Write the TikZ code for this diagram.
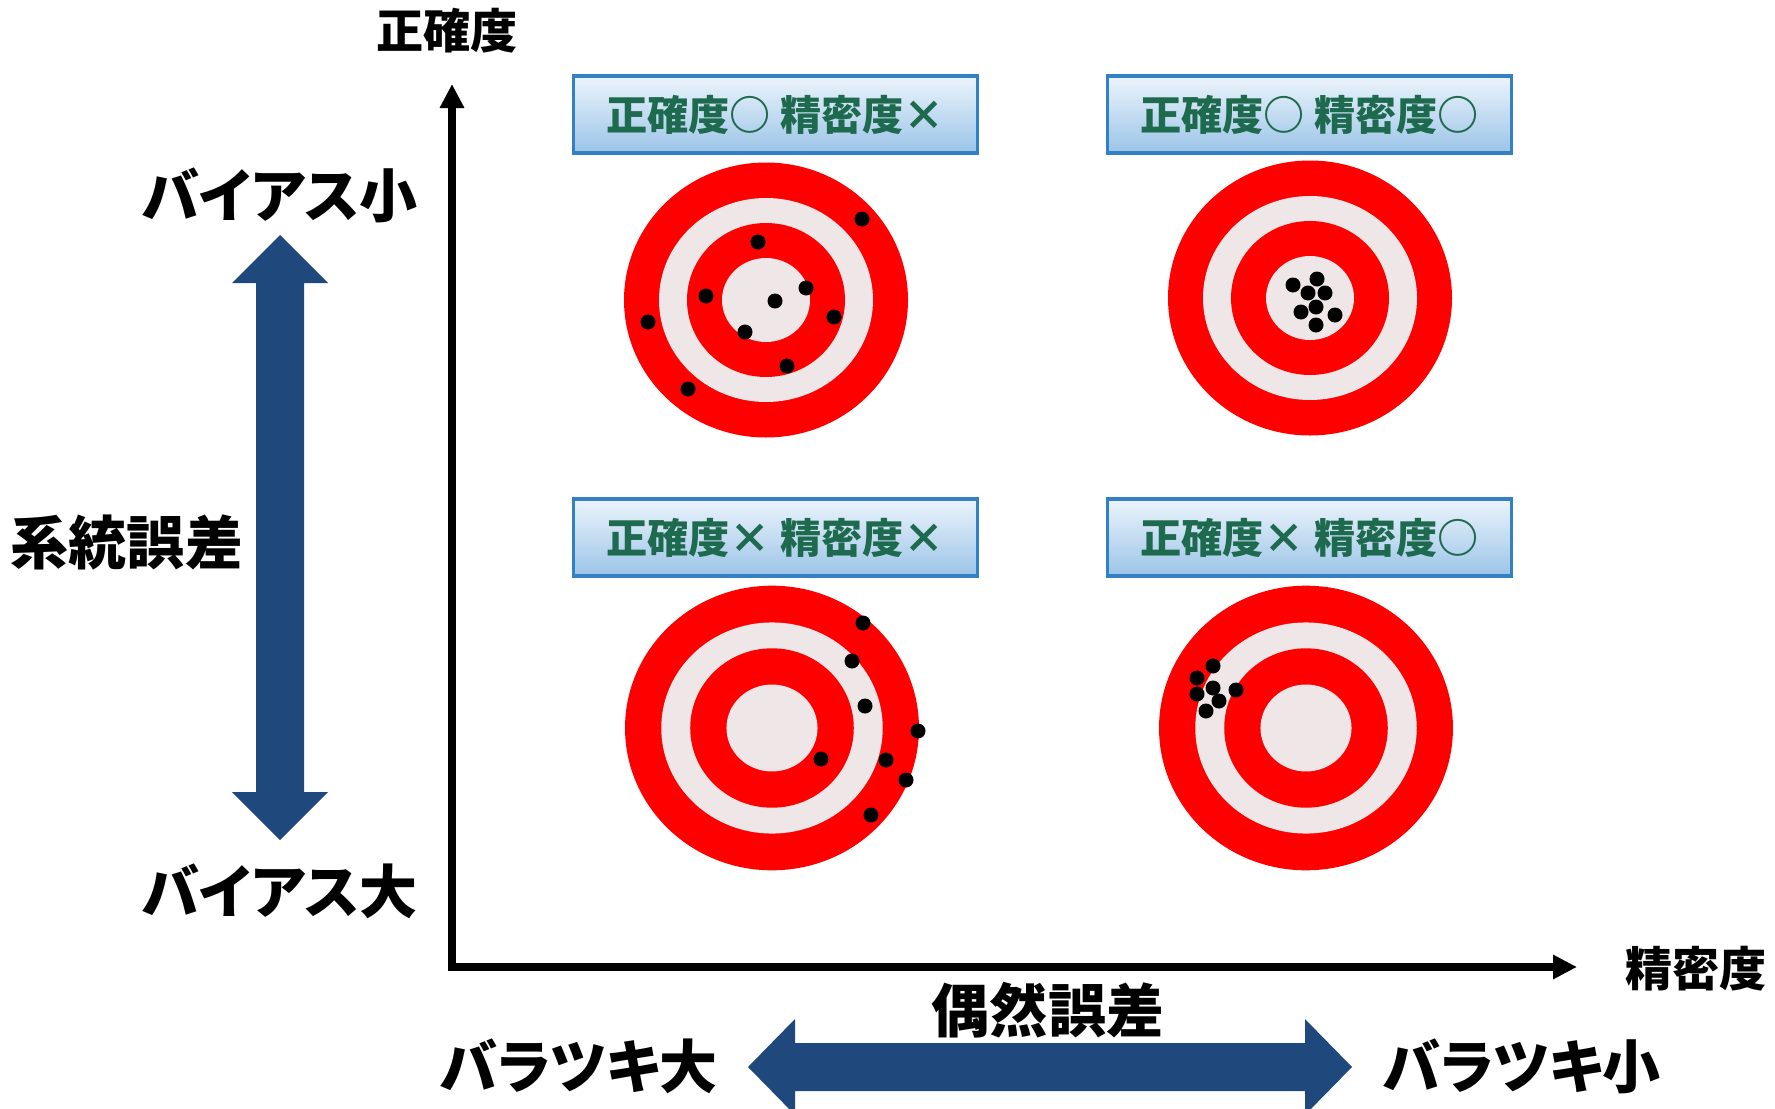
\documentclass[tikz,border=0pt]{standalone}
\usepackage{fontspec}
\setmainfont{Noto Sans CJK JP}
\newfontfamily\kanafont{Noto Sans CJK JP}[RawFeature=+palt]
\usetikzlibrary{arrows.meta}

\definecolor{ringred}{RGB}{255,0,0}
\definecolor{ringgray}{RGB}{239,231,231}
\definecolor{blockblue}{RGB}{31,73,125}
\definecolor{boxline}{RGB}{52,128,196}
\definecolor{boxtop}{RGB}{236,244,251}
\definecolor{boxbot}{RGB}{155,196,232}
\definecolor{tagtext}{RGB}{30,106,78}

\begin{document}
\begin{tikzpicture}[x=0.01cm,y=-0.01cm,font=\bfseries,>={Triangle[length=2.4mm,width=2.3mm]},
  big/.style={font=\bfseries\fontsize{16.5}{18}\selectfont},
  kana/.style={font=\kanafont\bfseries\fontsize{16.5}{18}\selectfont},
  axislabel/.style={font=\bfseries\fontsize{13.4}{15}\selectfont},
  tag/.style={draw=boxline,line width=0.9pt,top color=boxtop,bottom color=boxbot,
    minimum width=4.03cm,minimum height=0.77cm,inner sep=0pt,text=tagtext,
    font=\bfseries\fontsize{11.7}{13}\selectfont}]
\useasboundingbox (0,0) rectangle (1775,1109);

% axes
\coordinate (o) at (452,967);
\coordinate (ytip) at (452,84);
\coordinate (xtip) at (1577,967);
\draw[<->,line width=2.1pt] (ytip) -- (o) -- (xtip);
\node[axislabel] (acc) at (447,31) {正確度};
\node[axislabel] (prec) at (1696,969) {精密度};

% targets
\foreach \cx/\cy/\s in {766/300/1,1310/298/1,772/728/1.035,1306/728/1.035}
  \foreach \rx/\ry/\c in {142/137.5/ringred,107/102/ringgray,79/77/ringred,44/42/ringgray}
    \fill[\c] (\cx,\cy) ellipse[x radius=\s*\rx,y radius=\s*\ry];

% hits
\foreach \x/\y in {862/219,758/242,706/296,775/301,806/288,834/317,648/322,745/332,787/366,688/389}
  \fill (\x,\y) circle[radius=7.5];
\foreach \x/\y in {1293/285,1317/279,1308/293,1325/293,1316/307,1301/312,1335/315,1316/325}
  \fill (\x,\y) circle[radius=7.5];
\foreach \x/\y in {863/623,852/661,865/706,918/731,821/759,886/760,906/780,871/815}
  \fill (\x,\y) circle[radius=7.5];
\foreach \x/\y in {1213/666,1197/678,1213/688,1236/690,1197/694,1219/701,1206/711}
  \fill (\x,\y) circle[radius=7.5];

% labels over the targets
\node[tag] (ta) at (775.5,114.5) {正確度○\ 精密度×};
\node[tag] (tb) at (1309.5,114.5) {正確度○\ 精密度○};
\node[tag] (tc) at (775.5,537.5) {正確度× 精密度×};
\node[tag] (td) at (1309.5,537.5) {正確度× 精密度○};

% bias arrow
\fill[blockblue] (280,235) -- (328,283) -- (304,283) -- (304,792) -- (328,792) -- (280,840)
  -- (232,792) -- (256,792) -- (256,283) -- (232,283) -- cycle;
\node[kana] (biasS) at (280,195) {バイアス小};
\node[kana] (biasL) at (280,891) {バイアス大};
\node[big] (syserr) at (127,542) {系統誤差};

% spread arrow
\fill[blockblue] (748,1067) -- (795,1019) -- (795,1043) -- (1305,1043) -- (1305,1019) -- (1352,1067)
  -- (1305,1115) -- (1305,1091) -- (795,1091) -- (795,1115) -- cycle;
\node[big] (rnderr) at (1048,1010) {偶然誤差};
\node[kana] (spreadL) at (579,1066) {バラツキ大};
\node[kana] (spreadS) at (1522,1066) {バラツキ小};
\end{tikzpicture}
\end{document}
